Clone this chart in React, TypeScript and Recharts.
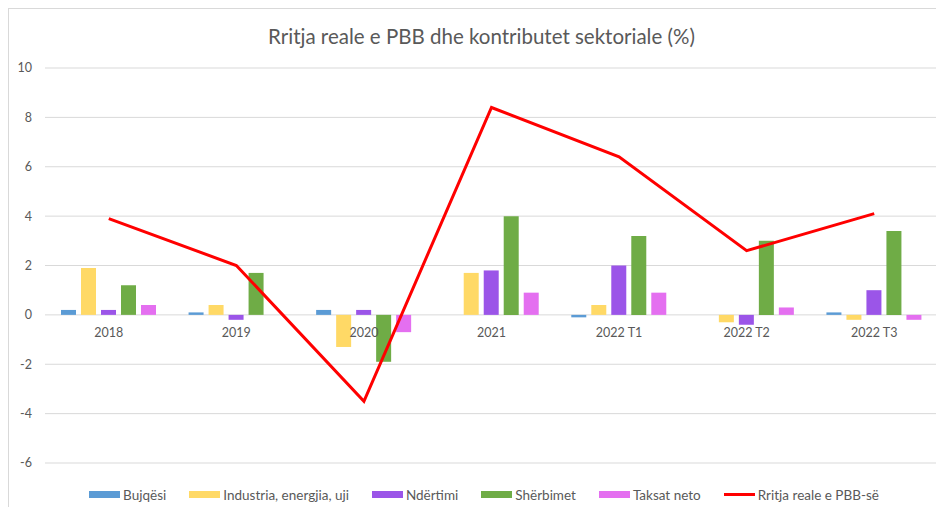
import React from "react";
import {
  ComposedChart,
  Bar,
  Line,
  XAxis,
  YAxis,
  CartesianGrid,
  Legend,
} from "recharts";

const categories = ["2018", "2019", "2020", "2021", "2022 T1", "2022 T2", "2022 T3"];
const bujqesi = [0.2, 0.1, 0.2, 0, -0.1, 0, 0.1];
const industria = [1.9, 0.4, -1.3, 1.7, 0.4, -0.3, -0.2];
const ndertimi = [0.2, -0.2, 0.2, 1.8, 2.0, -0.4, 1.0];
const sherbimet = [1.2, 1.7, -1.9, 4.0, 3.2, 3.0, 3.4];
const taksat = [0.4, 0, -0.7, 0.9, 0.9, 0.3, -0.2];
const rritja = [3.9, 2.0, -3.5, 8.4, 6.4, 2.6, 4.1];
const yTicks = [-6, -4, -2, 0, 2, 4, 6, 8, 10];

const series = [
  { key: "bujqesi", name: "Bujqësi", color: "#5B9BD5", type: "bar" },
  { key: "industria", name: "Industria, energjia, uji", color: "#FFD966", type: "bar" },
  { key: "ndertimi", name: "Ndërtimi", color: "#9B55E8", type: "bar" },
  { key: "sherbimet", name: "Shërbimet", color: "#6FAC46", type: "bar" },
  { key: "taksat", name: "Taksat neto", color: "#E46FF0", type: "bar" },
  { key: "rritja", name: "Rritja reale e PBB-së", color: "#FF0000", type: "line" },
];

const data = categories.map((c, i) => ({
  name: c,
  bujqesi: bujqesi[i],
  industria: industria[i],
  ndertimi: ndertimi[i],
  sherbimet: sherbimet[i],
  taksat: taksat[i],
  rritja: rritja[i],
}));

const FONT = "Lato, 'DejaVu Sans', sans-serif";
const TEXT = "#595959";

const CHART_W = 935;
const CHART_H = 497;
const MARGIN_TOP = 59;
const PLOT_BOTTOM = 454;
const Y_MIN = -6;
const Y_MAX = 10;
const zeroY = MARGIN_TOP + ((Y_MAX - 0) / (Y_MAX - Y_MIN)) * (PLOT_BOTTOM - MARGIN_TOP);

const ZeroTick = (props: any) => {
  const { x, payload } = props;
  return (
    <text
      x={x}
      y={zeroY + 22}
      textAnchor="middle"
      fill={TEXT}
      fontSize={12.5}
      fontFamily={FONT}
    >
      {payload.value}
    </text>
  );
};

// legend order follows the series list, not Recharts' own sort
const LegendContent = () => (
  <div
    style={{
      display: "flex",
      justifyContent: "center",
      alignItems: "center",
      height: 23,
      paddingLeft: 44,
      fontFamily: FONT,
      fontSize: 13.5,
      color: TEXT,
    }}
  >
    {series.map((s) => (
      <div key={s.key} style={{ display: "flex", alignItems: "center", marginRight: 23 }}>
        <div
          style={{
            width: 31,
            height: s.type === "line" ? 3 : 7,
            background: s.color,
            marginRight: 3,
          }}
        />
        <span>{s.name}</span>
      </div>
    ))}
  </div>
);

export default function App() {
  return (
    <div
      style={{
        position: "relative",
        width: CHART_W + 20,
        height: CHART_H + 10,
        borderLeft: "1px solid #D9D9D9",
        borderTop: "1px solid #D9D9D9",
        background: "#fff",
      }}
    >
      <div
        style={{
          position: "absolute",
          top: 15,
          left: 5,
          width: CHART_W,
          textAlign: "center",
          fontFamily: FONT,
          fontSize: 20.5,
          color: TEXT,
        }}
      >
        Rritja reale e PBB dhe kontributet sektoriale (%)
      </div>
      <ComposedChart
        width={CHART_W}
        height={CHART_H}
        data={data}
        margin={{ top: MARGIN_TOP, right: 6, bottom: 0, left: 0 }}
        barSize={15}
        barGap={5}
      >
        <CartesianGrid vertical={false} stroke="#D9D9D9" />
        <XAxis
          dataKey="name"
          axisLine={false}
          tickLine={false}
          height={20}
          interval={0}
          tick={<ZeroTick />}
        />
        <YAxis
          domain={[Y_MIN, Y_MAX]}
          ticks={yTicks}
          interval={0}
          width={36}
          axisLine={false}
          tickLine={false}
          tickSize={0}
          tickMargin={13}
          tick={{ fill: TEXT, fontSize: 12.5, fontFamily: FONT }}
        />
        <Legend verticalAlign="bottom" height={23} content={<LegendContent />} />
        {series
          .filter((s) => s.type === "bar")
          .map((s) => (
            <Bar
              key={s.key}
              dataKey={s.key}
              name={s.name}
              fill={s.color}
              isAnimationActive={false}
            />
          ))}
        <Line
          dataKey="rritja"
          name="Rritja reale e PBB-së"
          stroke="#FF0000"
          strokeWidth={3}
          dot={false}
          type="linear"
          isAnimationActive={false}
        />
      </ComposedChart>
    </div>
  );
}
